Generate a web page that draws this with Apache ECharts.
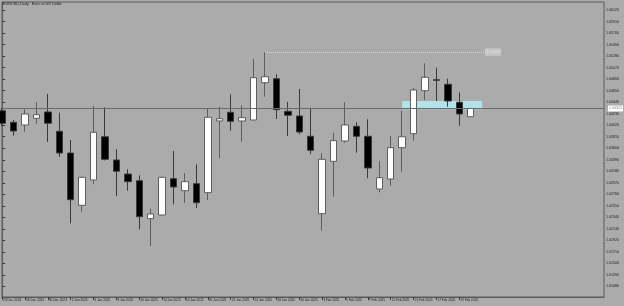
<!DOCTYPE html>
<html>
<head>
<meta charset="utf-8">
<script src="https://cdn.jsdelivr.net/npm/echarts@6/dist/echarts.min.js"></script>
<style>
html,body{margin:0;padding:0;background:#ababab;}
#c{width:624px;height:306px;}
</style>
</head>
<body>
<div id="c"></div>
<script>
// ---- data ----
const dates = ['23 Dec 2024','24 Dec 2024','26 Dec 2024','27 Dec 2024','30 Dec 2024','31 Dec 2024',
 '2 Jan 2025','3 Jan 2025','6 Jan 2025','7 Jan 2025','8 Jan 2025','9 Jan 2025','10 Jan 2025','13 Jan 2025',
 '14 Jan 2025','15 Jan 2025','16 Jan 2025','17 Jan 2025','20 Jan 2025','21 Jan 2025','22 Jan 2025','23 Jan 2025',
 '24 Jan 2025','27 Jan 2025','28 Jan 2025','29 Jan 2025','30 Jan 2025','31 Jan 2025','3 Feb 2025','4 Feb 2025',
 '5 Feb 2025','6 Feb 2025','7 Feb 2025','10 Feb 2025','11 Feb 2025','12 Feb 2025','13 Feb 2025','14 Feb 2025',
 '17 Feb 2025','18 Feb 2025','19 Feb 2025','20 Feb 2025'];
const opens  = [1.04284,1.04073,1.04024,1.04146,1.04261,1.03909,1.03513,1.02560,1.03021,1.03810,1.03386,1.03130,1.03008,1.02316,1.02383,1.03045,1.02826,1.02954,1.02790,1.04097,1.04255,1.04097,1.04115,1.04795,1.04868,1.04273,1.04188,1.03818,1.02407,1.03362,1.03732,1.04000,1.03818,1.02857,1.03039,1.03610,1.03865,1.04649,1.04849,1.04766,1.04438,1.04175];
const closes = [1.04055,1.03914,1.04224,1.04211,1.04055,1.03513,1.02662,1.03070,1.03891,1.03398,1.03180,1.02990,1.02352,1.02401,1.03070,1.02894,1.02990,1.02607,1.04164,1.04139,1.04091,1.04157,1.04886,1.04904,1.04303,1.04201,1.03896,1.03563,1.03398,1.03738,1.04024,1.03818,1.03240,1.03063,1.03610,1.03810,1.04662,1.04893,1.04838,1.04461,1.04224,1.04325];
const lows   = [1.04005,1.03829,1.03902,1.04047,1.03714,1.03440,1.02232,1.02443,1.02943,1.03377,1.02729,1.02826,1.02122,1.01818,1.02374,1.02578,1.02607,1.02511,1.02657,1.03417,1.03920,1.03719,1.04106,1.04540,1.04133,1.03823,1.03854,1.03495,1.02097,1.02717,1.03701,1.03519,1.03052,1.02797,1.02917,1.03172,1.03738,1.04479,1.04461,1.04357,1.04011,1.04170];
const highs  = [1.04334,1.04115,1.04310,1.04443,1.04589,1.04248,1.03750,1.03081,1.04370,1.04346,1.03581,1.03216,1.03107,1.02498,1.03081,1.03550,1.03143,1.03307,1.04328,1.04357,1.04583,1.04383,1.05227,1.05354,1.04948,1.04443,1.04680,1.04339,1.03508,1.03883,1.04438,1.04073,1.04128,1.03367,1.03823,1.04288,1.04698,1.05148,1.05068,1.04868,1.04620,1.04330];
const priceTicks = [1.0612,1.0591,1.0570,1.0549,1.0528,1.0507,1.0486,1.0465,1.0444,1.0423,1.0402,1.0381,1.0360,
 1.0339,1.0318,1.0297,1.0276,1.0255,1.0234,1.0213,1.0192,1.0171,1.0150,1.0129,1.0108];
const dateTickIdx = [0,2,4,6,8,10,12,14,16,18,20,22,24,26,28,30,32,34,36,38,40];
const titleText = 'EURUSD,Daily:  Euro vs US Dollar';
// annotations
const highLineFrom = 23, highLineTo = 42.3, highLineLevel = 1.05354;
const zoneFrom = 35, zoneTo = 42, zoneTop = 1.04461, zoneBottom = 1.04310;

const candles = dates.map((d, i) => [i, opens[i], closes[i], lows[i], highs[i]]);
const lastClose = closes[closes.length - 1];

const chart = echarts.init(document.getElementById('c'));
const FONT = 'Liberation Sans';
chart.setOption({
  animation: false,
  backgroundColor: '#ababab',
  title: {
    text: titleText, left: 3, top: 2, padding: 0,
    textStyle: {fontSize: 3.8, fontWeight: 'normal', color: '#1a1a1a', fontFamily: FONT}
  },
  grid: {
    left: 2, right: 20, top: 2, bottom: 9,
    show: true, borderColor: '#5a5a5a', borderWidth: 1, backgroundColor: 'transparent'
  },
  xAxis: {
    type: 'value', min: -0.01, max: 52.66,
    axisLine: {show: true, lineStyle: {color: '#5a5a5a'}},
    splitLine: {show: false},
    axisTick: {show: true, customValues: dateTickIdx, length: 3, lineStyle: {color: '#3a3a3a'}},
    axisLabel: {
      customValues: dateTickIdx, align: 'left', margin: 2, padding: [0,0,0,1],
      fontSize: 3.2, color: '#1a1a1a', fontFamily: FONT, hideOverlap: false,
      formatter: v => dates[Math.round(v)]
    }
  },
  yAxis: {
    type: 'value', position: 'right', min: 1.00888, max: 1.06266, scale: true,
    axisLine: {show: true, lineStyle: {color: '#5a5a5a'}},
    splitLine: {show: false},
    axisTick: {show: true, customValues: priceTicks, length: 3, lineStyle: {color: '#3a3a3a'}},
    axisLabel: {
      customValues: priceTicks, margin: 2, fontSize: 3.6, color: '#1a1a1a', fontFamily: FONT,
      formatter: v => v.toFixed(5)
    }
  },
  series: [{
    type: 'candlestick',
    data: candles,
    encode: {x: 0, y: [1, 2, 3, 4]},
    barWidth: 7,
    clip: true,
    itemStyle: {
      color: '#ffffff', color0: '#000000',
      borderColor: '#5e5e5e', borderColor0: '#3a3a3a', borderWidth: 1
    },
    markArea: {
      silent: true,
      itemStyle: {color: '#b2e2ea'},
      data: [[{coord: [zoneFrom, zoneTop]}, {coord: [zoneTo, zoneBottom]}]]
    },
    markLine: {
      silent: true, symbol: 'none', precision: 5,
      data: [
        {
          yAxis: lastClose,
          lineStyle: {color: '#6a6a6a', width: 1, type: 'solid'},
          label: {
            show: true, position: 'end', distance: 4, formatter: lastClose.toFixed(5),
            fontSize: 3.6, color: '#888', fontFamily: FONT, backgroundColor: '#ffffff', padding: [1, 1]
          }
        },
        [
          {coord: [highLineFrom, highLineLevel],
           lineStyle: {color: '#d6d6d6', width: 1, type: 'dotted'},
           label: {
             show: true, position: 'end', distance: 0, formatter: highLineLevel.toFixed(5),
             fontSize: 3.6, color: '#e6e6e6', fontFamily: FONT, backgroundColor: '#c4c4c4',
             borderColor: '#d8d8d8', borderWidth: 0.5, padding: [1, 1]
           }},
          {coord: [highLineTo, highLineLevel]}
        ]
      ]
    }
  }]
});
</script>
</body>
</html>
